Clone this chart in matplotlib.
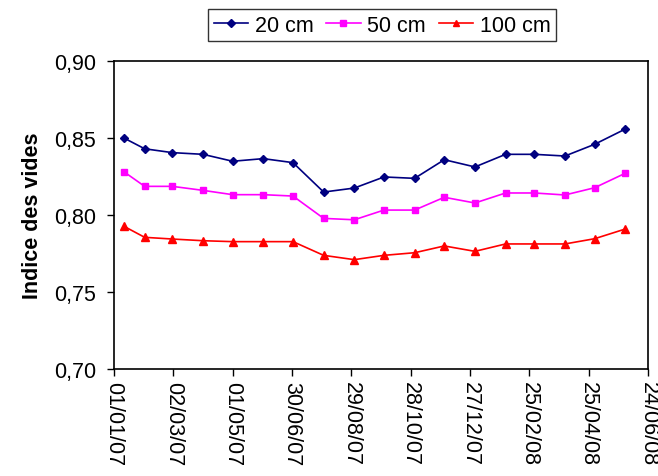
import matplotlib
matplotlib.use("Agg")
import matplotlib.pyplot as plt
import matplotlib.dates as mdates
import numpy as np
import datetime as dt

plt.rcParams['font.family'] = ['Liberation Sans', 'DejaVu Sans']

dates = ["2007-01-11", "2007-02-01", "2007-03-01", "2007-04-01", "2007-05-01",
         "2007-06-01", "2007-07-01", "2007-08-01", "2007-09-01", "2007-10-01",
         "2007-11-01", "2007-12-01", "2008-01-01", "2008-02-01", "2008-03-01",
         "2008-04-01", "2008-05-01", "2008-06-01"]
s20 = [0.850, 0.843, 0.8405, 0.8394, 0.8349, 0.8366, 0.8340, 0.8149, 0.8175,
       0.8247, 0.8238, 0.8359, 0.8312, 0.8394, 0.8394, 0.8383, 0.8459, 0.8558]
s50 = [0.8281, 0.8186, 0.8186, 0.8160, 0.8132, 0.8132, 0.8123, 0.7978, 0.7969,
       0.8032, 0.8032, 0.8115, 0.8078, 0.8143, 0.8143, 0.8130, 0.8177, 0.8271]
s100 = [0.7927, 0.7855, 0.7844, 0.7833, 0.7827, 0.7827, 0.7827, 0.7738, 0.7710,
        0.7738, 0.7755, 0.7799, 0.7764, 0.7812, 0.7812, 0.7812, 0.7846, 0.7909]
labels = ["20 cm", "50 cm", "100 cm"]
ytick_vals = [0.70, 0.75, 0.80, 0.85, 0.90]

x = [dt.datetime.strptime(d, "%Y-%m-%d") for d in dates]

FS = 15.5
fig = plt.figure(figsize=(6.58, 4.77), dpi=100)
ax = fig.add_axes([114/658, 1-370/477, (648-114)/658, (370-62)/477])

ax.plot(x, s20, color="#000080", marker="D", markersize=4.5, lw=1.2, label=labels[0])
ax.plot(x, s50, color="#FF00FF", marker="s", markersize=5, lw=1.2, label=labels[1])
ax.plot(x, s100, color="#FF0000", marker="^", markersize=6, lw=1.2, label=labels[2])

start = dt.datetime(2007, 1, 1)
xt = [start + dt.timedelta(days=60*i) for i in range(10)]
ax.set_xlim(xt[0], xt[-1])
ax.set_xticks(xt)
ax.set_xticklabels([d.strftime("%d/%m/%y") for d in xt], rotation=270, fontsize=FS)
ax.set_ylim(0.70, 0.90)
ax.set_yticks(ytick_vals)
ax.set_yticklabels([f"{v:.2f}".replace(".", ",") for v in ytick_vals], fontsize=FS)
ax.tick_params(direction="out", length=5, width=1)
ax.tick_params(axis="y", pad=8)
ax.tick_params(axis="x", pad=4)
for sp in ax.spines.values():
    sp.set_linewidth(1.2)
ax.set_ylabel("Indice des vides", fontsize=FS, fontweight="bold", labelpad=8)

fig.legend(loc="center", bbox_to_anchor=(382/658, 1-26/477), ncol=3, fontsize=FS,
           frameon=True, fancybox=False, edgecolor="black", handlelength=1.6,
           columnspacing=0.6, handletextpad=0.3, borderpad=0.25, markerscale=0.8)
leg = fig.legends[0]
leg.get_frame().set_linewidth(1.0)

fig.savefig("out.png", dpi=100)
